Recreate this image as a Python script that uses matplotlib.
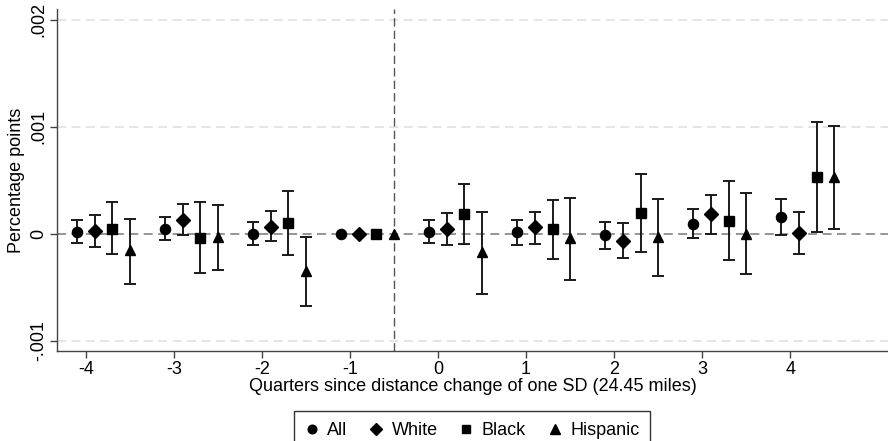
import numpy as np
import matplotlib
matplotlib.use("Agg")
import matplotlib.pyplot as plt
from matplotlib.lines import Line2D

plt.rcParams['font.family'] = ['Liberation Sans', 'DejaVu Sans']

# quarters since the distance change
quarters = [-4, -3, -2, -1, 0, 1, 2, 3, 4]
groups = ["All", "White", "Black", "Hispanic"]

# point estimates (percentage points, x 1e-3)
all_est = [0.019, 0.044, 0.000, 0.0, 0.019, 0.012, -0.016, 0.094, 0.153]
white_est = [0.025, 0.125, 0.066, 0.0, 0.044, 0.062, -0.066, 0.180, 0.009]
black_est = [0.047, -0.040, 0.096, 0.0, 0.180, 0.040, 0.190, 0.116, 0.528]
hisp_est = [-0.150, -0.030, -0.350, 0.0, -0.170, -0.040, -0.028, 0.000, 0.534]

# 95% CI upper / lower (x 1e-3), -1 is the omitted quarter
all_hi = [0.130, 0.156, 0.110, 0.0, 0.130, 0.130, 0.110, 0.228, 0.328]
all_lo = [-0.088, -0.062, -0.110, 0.0, -0.090, -0.103, -0.144, -0.038, -0.016]
white_hi = [0.170, 0.280, 0.210, 0.0, 0.197, 0.206, 0.100, 0.360, 0.206]
white_lo = [-0.120, -0.012, -0.070, 0.0, -0.110, -0.094, -0.228, 0.000, -0.188]
black_hi = [0.300, 0.300, 0.400, 0.0, 0.466, 0.316, 0.553, 0.494, 1.047]
black_lo = [-0.190, -0.370, -0.197, 0.0, -0.097, -0.240, -0.175, -0.250, 0.012]
hisp_hi = [0.140, 0.270, -0.034, 0.0, 0.200, 0.334, 0.325, 0.378, 1.010]
hisp_lo = [-0.470, -0.340, -0.675, 0.0, -0.560, -0.434, -0.394, -0.380, 0.044]

series = [
    (all_est, all_lo, all_hi, -0.1, 'o', 7.3),
    (white_est, white_lo, white_hi, 0.1, 'D', 6.8),
    (black_est, black_lo, black_hi, 0.3, 's', 7.0),
    (hisp_est, hisp_lo, hisp_hi, 0.5, '^', 7.8),
]

fig = plt.figure(figsize=(8.88, 4.41), dpi=100)
ax = fig.add_axes([0.064, 0.203, 0.936, 0.777])

ax.set_xlim(-4.33, 5.11)
ax.set_ylim(-0.0011, 0.0021)

# grid lines + reference lines
for yv in [-0.001, 0.001, 0.002]:
    ax.axhline(yv, color='#e3e3e3', lw=1.3, ls=(0, (5, 3)), zorder=0)
ax.axhline(0, color='#8c8c8c', lw=1.3, ls=(0, (5, 3)), zorder=1)
ax.axvline(-0.5, color='#555555', lw=1.0, ls=(0, (6, 3)), zorder=1)

q = np.array(quarters, dtype=float)
for est, lo, hi, off, mk, ms in series:
    est = np.array(est) * 1e-3
    lo = np.array(lo) * 1e-3
    hi = np.array(hi) * 1e-3
    x = q + off
    has_ci = (hi - lo) > 0  # omitted quarter has no CI
    ax.errorbar(x[has_ci], est[has_ci],
                yerr=[est[has_ci] - lo[has_ci], hi[has_ci] - est[has_ci]],
                fmt='none', ecolor='#1a1a1a', elinewidth=1.4, capsize=4.5,
                capthick=1.4, zorder=2)
    ax.plot(x, est, ls='none', marker=mk, color='black', markersize=ms, zorder=3)

ax.set_xticks(quarters)
ax.set_xticklabels([str(v) for v in quarters])
ax.set_yticks([-0.001, 0, 0.001, 0.002])
ax.set_yticklabels(['-.001', '0', '.001', '.002'], rotation=90, va='center')
ax.tick_params(axis='both', labelsize=13, length=5, width=1, color='#444444')
ax.tick_params(axis='x', pad=2)
ax.tick_params(axis='y', pad=2)

for s in ['top', 'right']:
    ax.spines[s].set_visible(False)
for s in ['left', 'bottom']:
    ax.spines[s].set_color('#444444')
    ax.spines[s].set_linewidth(1.0)

ax.set_xlabel('Quarters since distance change of one SD (24.45 miles)', fontsize=13, labelpad=0)
ax.set_ylabel('Percentage points', fontsize=13, labelpad=4)

handles = [Line2D([], [], ls='none', marker=mk, color='black', markersize=ms * 0.85)
           for _, _, _, _, mk, ms in series]
leg = fig.legend(handles, groups, loc='upper center', bbox_to_anchor=(0.532, 0.068),
                 borderaxespad=0, ncol=4, frameon=True, fancybox=False, fontsize=13,
                 handlelength=0.7, handletextpad=0.5, columnspacing=1.25,
                 borderpad=0.6, edgecolor='black')
leg.get_frame().set_linewidth(1.0)

fig.savefig('out.png', dpi=100)
